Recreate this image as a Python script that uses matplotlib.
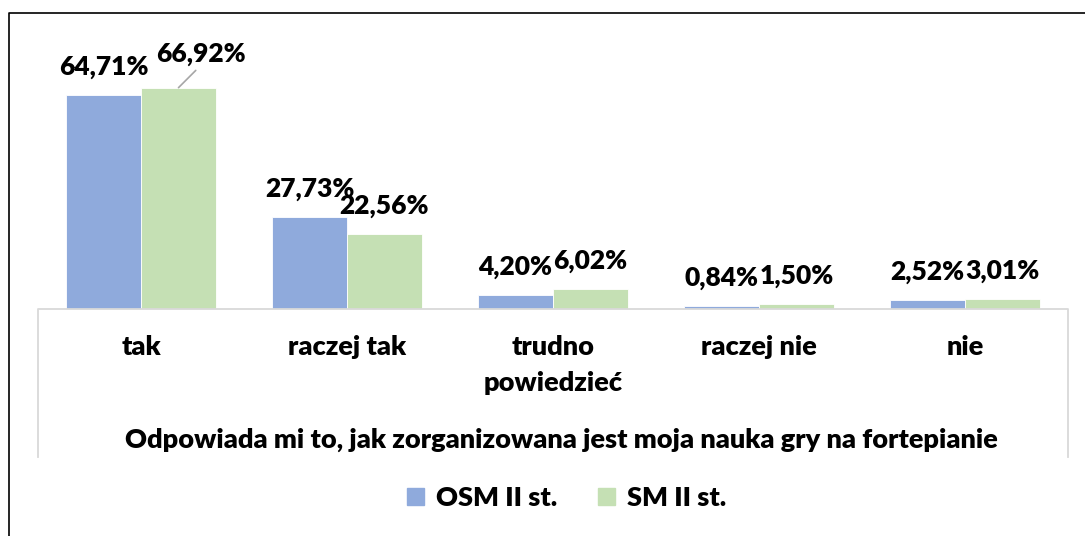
import matplotlib.pyplot as plt
import numpy as np
from matplotlib.lines import Line2D
from matplotlib.patches import Patch

categories = ['tak', 'raczej tak', 'trudno\npowiedzieć', 'raczej nie', 'nie']
osm = [64.71, 27.73, 4.20, 0.84, 2.52]
sm = [66.92, 22.56, 6.02, 1.50, 3.01]
series_names = ['OSM II st.', 'SM II st.']
axis_title = 'Odpowiada mi to, jak zorganizowana jest moja nauka gry na fortepianie'

blue = '#8faadc'
green = '#c5e0b4'

plt.rcParams['font.family'] = ['Lato', 'DejaVu Sans']
wt = 'heavy'
fs = 19.5      # category / title / legend
fs_lab = 19    # data labels

W, H = 1085, 536
fig = plt.figure(figsize=(W / 100, H / 100), dpi=100)

# plot area in pixels: x 38..1068, baseline at 308.5
ax_l, ax_r, base = 38, 1068, 308.5
ymax = 70
px_per = 3.3
ax_top = base - ymax * px_per
ax = fig.add_axes([ax_l / W, 1 - base / H, (ax_r - ax_l) / W, (base - ax_top) / H])

x = np.arange(len(categories))
bw = 0.364
ax.bar(x - bw / 2, osm, bw, color=blue, edgecolor='white', linewidth=0.6)
ax.bar(x + bw / 2, sm, bw, color=green, edgecolor='white', linewidth=0.6)
ax.set_xlim(-0.5, len(categories) - 0.5)
ax.set_ylim(0, ymax)
for s in ax.spines.values():
    s.set_visible(False)
ax.set_yticks([])
ax.set_xticks(x)
ax.set_xticklabels(categories, fontsize=fs, fontweight=wt, linespacing=1.6)
ax.tick_params(axis='x', length=0, pad=19)


def fmt(v):
    return ('%.2f%%' % v).replace('.', ',')


# data labels, nudged like in the original
for i, v in enumerate(osm):
    ax.annotate(fmt(v), (x[i] - bw / 2, v), xytext=(0, 28), textcoords='offset pixels',
                ha='center', va='center', fontsize=fs_lab, fontweight=wt)
for i, v in enumerate(sm):
    if i == 0:
        ax.annotate(fmt(v), (x[i] + bw / 2, v), xytext=(22, 34), textcoords='offset pixels',
                    ha='center', va='center', fontsize=fs_lab, fontweight=wt,
                    arrowprops=dict(arrowstyle='-', color='#a6a6a6', lw=1.2,
                                    relpos=(0.5, 0), shrinkA=2, shrinkB=0))
    else:
        ax.annotate(fmt(v), (x[i] + bw / 2, v), xytext=(0, 28), textcoords='offset pixels',
                    ha='center', va='center', fontsize=fs_lab, fontweight=wt)

# category axis box (left, top, right edges)
gray = '#d9d9d9'
bx0, bx1, by0, by1 = ax_l / W, ax_r / W, 1 - 309 / H, 1 - 457 / H
fig.add_artist(Line2D([bx0, bx0, bx1, bx1], [by1, by0, by0, by1], color=gray, lw=1.3))

fig.text(561 / W, 1 - 440 / H, axis_title, ha='center', va='center',
         fontsize=fs, fontweight=wt)

handles = [Patch(color=blue), Patch(color=green)]
fig.legend(handles, series_names, loc='center', bbox_to_anchor=(567 / W, 1 - 498 / H),
           ncol=2, frameon=False, handlelength=0.62, handleheight=0.62,
           handletextpad=0.45, columnspacing=1.5, prop={'weight': wt, 'size': fs})

# outer chart border
fig.add_artist(Line2D([8.5 / W, 8.5 / W, 1.0], [0.0, 1 - 13 / H, 1 - 13 / H],
                      color='black', lw=1.2))

fig.savefig('out.png', dpi=100)
